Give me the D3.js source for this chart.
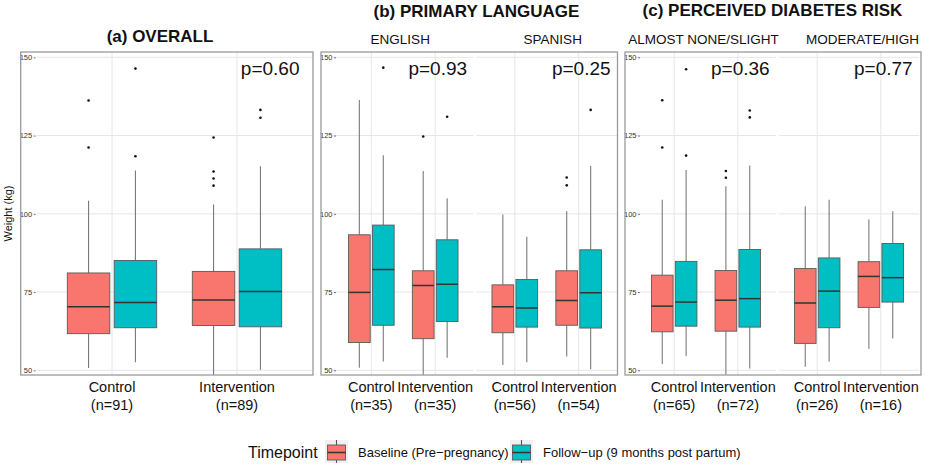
<!DOCTYPE html>
<html>
<head>
<meta charset="utf-8">
<script src="https://cdn.jsdelivr.net/npm/d3@7"></script>
<style>
  body { margin: 0; background: #fff; }
  svg { font-family: "Liberation Sans", Arial, sans-serif; }
</style>
</head>
<body>
<svg id="chart" width="930" height="465"></svg>
<script>
// Facets, arms and timepoints
const facetNames = ['OVERALL', 'ENGLISH', 'SPANISH', 'ALMOST NONE/SLIGHT', 'MODERATE/HIGH'];
const armNames = ['Control', 'Intervention'];
const timepoints = ['Baseline (Pre\u2212pregnancy)', 'Follow\u2212up (9 months post partum)'];
const armCounts = [[91, 89], [35, 35], [56, 54], [65, 72], [26, 16]];
const pValues = ['p=0.60', 'p=0.93', 'p=0.25', 'p=0.36', 'p=0.77'];
const yTicks = [50, 75, 100, 125, 150];

// Box stats per facet, per arm: [lower whisker, Q1, median, Q3, upper whisker]
const baselineBoxes = [
  [[50.7, 61.7, 70.3, 81.1, 104.2], [47.0, 64.3, 72.5, 81.6, 103.0]],
  [[50.8, 58.9, 74.9, 93.3, 136.4], [47.0, 60.1, 77.1, 81.8, 113.7]],
  [[51.7, 62.0, 70.3, 77.3, 99.8], [54.4, 64.4, 72.3, 81.8, 100.8]],
  [[52.0, 62.3, 70.5, 80.4, 104.5], [47.0, 62.5, 72.4, 81.9, 108.8]],
  [[51.1, 58.6, 71.5, 82.5, 102.4], [56.9, 70.1, 80.0, 84.7, 98.2]]
];
const followupBoxes = [
  [[52.6, 63.6, 71.7, 85.1, 113.8], [50.2, 63.9, 75.2, 88.8, 115.2]],
  [[52.8, 64.4, 82.2, 96.4, 118.7], [54.0, 65.6, 77.5, 91.7, 105.0]],
  [[52.6, 63.8, 69.9, 79.0, 92.7], [50.3, 63.5, 74.8, 88.5, 115.3]],
  [[54.6, 64.1, 71.8, 84.8, 114.0], [50.6, 63.8, 72.9, 88.6, 115.4]],
  [[52.8, 63.6, 75.3, 85.9, 104.5], [60.2, 71.8, 79.6, 90.5, 100.8]]
];
const baselineOutliers = [
  [[136.2, 121.2], [124.4, 113.5, 111.3, 109.0]],
  [[], [124.7]],
  [[], [111.6, 109.1]],
  [[136.3, 121.2], [113.7, 111.5]],
  [[], []]
];
const followupOutliers = [
  [[146.4, 118.4], [133.2, 130.7]],
  [[146.7], [131.0]],
  [[], [133.2]],
  [[146.2, 118.6], [133.0, 130.8]],
  [[], []]
];

const fillColors = ['#F8766D', '#00BFC4'];

// Layout of the three composite panels
const panels = [
  { title: '(a) OVERALL', titleX: 160, titleY: 42, frame: [20.7, 313],
    facets: [{ i: 0, x0: 37, x1: 312 }] },
  { title: '(b) PRIMARY LANGUAGE', titleX: 476.5, titleY: 17, frame: [321, 617.5],
    facets: [{ i: 1, x0: 333, x1: 473.5, stripDx: -3 }, { i: 2, x0: 476.5, x1: 617, stripDx: 6 }] },
  { title: '(c) PERCEIVED DIABETES RISK', titleX: 772.5, titleY: 16, frame: [625, 921],
    facets: [{ i: 3, x0: 636, x1: 776, stripDx: -2.5 }, { i: 4, x0: 779, x1: 919, stripDx: 13.5 }] }
];

const plotTop = 52;
const plotBottom = 375;

const svg = d3.select('#chart');

const y = d3.scaleLinear()
  .domain([48.5, 151.7])
  .range([plotBottom, plotTop]);

panels.forEach((panel, pi) => {
  const g = svg.append('g');
  const [fx0, fx1] = panel.frame;

  // Clip for whiskers that run past the panel
  svg.append('defs').append('clipPath')
    .attr('id', 'clip' + pi)
    .append('rect')
    .attr('x', fx0)
    .attr('y', plotTop)
    .attr('width', fx1 - fx0)
    .attr('height', plotBottom - plotTop);

  // Title
  g.append('text')
    .attr('x', panel.titleX)
    .attr('y', panel.titleY)
    .attr('text-anchor', 'middle')
    .attr('font-size', 17)
    .attr('font-weight', 'bold')
    .attr('fill', '#111')
    .text(panel.title);

  const plot = g.append('g').attr('clip-path', `url(#clip${pi})`);

  panel.facets.forEach(f => {
    const x = d3.scalePoint()
      .domain(armNames)
      .range([f.x0, f.x1])
      .padding(0.6);
    const step = x.step();
    const bw = step * 0.34;
    const dodge = step * 0.1875;

    // Horizontal grid
    plot.append('g')
      .selectAll('line')
      .data(yTicks)
      .join('line')
      .attr('x1', f.x0)
      .attr('x2', f.x1)
      .attr('y1', d => y(d))
      .attr('y2', d => y(d))
      .attr('stroke', '#e6e6e6')
      .attr('stroke-width', 1);

    // Vertical grid at categories
    plot.append('g')
      .selectAll('line')
      .data(armNames)
      .join('line')
      .attr('x1', d => x(d))
      .attr('x2', d => x(d))
      .attr('y1', plotTop)
      .attr('y2', plotBottom)
      .attr('stroke', '#e6e6e6')
      .attr('stroke-width', 1);

    // Flatten box records
    const boxes = [];
    armNames.forEach((arm, a) => {
      [baselineBoxes, followupBoxes].forEach((src, t) => {
        const s = src[f.i][a];
        const outl = (t === 0 ? baselineOutliers : followupOutliers)[f.i][a];
        boxes.push({
          cx: x(arm) + (t === 0 ? -dodge : dodge),
          t: t,
          lo: s[0], q1: s[1], med: s[2], q3: s[3], hi: s[4],
          outliers: outl
        });
      });
    });

    const bg = plot.append('g')
      .selectAll('g')
      .data(boxes)
      .join('g');

    // Whiskers
    bg.append('line')
      .attr('x1', d => d.cx).attr('x2', d => d.cx)
      .attr('y1', d => y(d.hi)).attr('y2', d => y(d.q3))
      .attr('stroke', '#7a7a7a').attr('stroke-width', 1.1);
    bg.append('line')
      .attr('x1', d => d.cx).attr('x2', d => d.cx)
      .attr('y1', d => y(d.q1)).attr('y2', d => y(d.lo))
      .attr('stroke', '#7a7a7a').attr('stroke-width', 1.1);

    // Boxes
    bg.append('rect')
      .attr('x', d => d.cx - bw / 2)
      .attr('width', bw)
      .attr('y', d => y(d.q3))
      .attr('height', d => y(d.q1) - y(d.q3))
      .attr('fill', d => fillColors[d.t])
      .attr('stroke', '#5a5a5a')
      .attr('stroke-width', 0.9);

    // Median
    bg.append('line')
      .attr('x1', d => d.cx - bw / 2).attr('x2', d => d.cx + bw / 2)
      .attr('y1', d => y(d.med)).attr('y2', d => y(d.med))
      .attr('stroke', '#333').attr('stroke-width', 1.5);

    // Outliers
    bg.selectAll('circle')
      .data(d => d.outliers.map(v => ({ cx: d.cx, v: v })))
      .join('circle')
      .attr('cx', d => d.cx)
      .attr('cy', d => y(d.v))
      .attr('r', 1.3)
      .attr('fill', '#111');

    // p-value annotation, placed in data units
    const xData = d3.scaleLinear().domain([0.4, 2.6]).range([f.x0, f.x1]);
    g.append('text')
      .attr('x', xData(2.5))
      .attr('y', y(144.3))
      .attr('text-anchor', 'end')
      .attr('font-size', 19)
      .attr('fill', '#111')
      .text(pValues[f.i]);

    // Strip label
    if (panel.facets.length > 1) {
      g.append('text')
        .attr('x', (f.x0 + f.x1) / 2 + (f.stripDx || 0))
        .attr('y', 43.5)
        .attr('text-anchor', 'middle')
        .attr('font-size', 13.5)
        .attr('fill', '#111')
        .text(facetNames[f.i]);
    }

    // Category labels with counts
    const lab = g.append('g')
      .selectAll('text')
      .data(armNames)
      .join('text')
      .attr('text-anchor', 'middle')
      .attr('font-size', 14.5)
      .attr('fill', '#111');
    lab.append('tspan')
      .attr('x', d => x(d))
      .attr('y', 392)
      .text(d => d);
    lab.append('tspan')
      .attr('x', d => x(d))
      .attr('y', 410)
      .text((d, k) => `(n=${armCounts[f.i][k]})`);
  });

  // Y axis inside the frame
  const axis = g.append('g')
    .attr('transform', `translate(${fx0 + 15},0)`)
    .call(d3.axisLeft(y).tickValues(yTicks).tickSize(2).tickPadding(1.5));
  axis.select('.domain').remove();
  axis.selectAll('.tick line').attr('stroke', '#555').attr('stroke-width', 0.8);
  axis.selectAll('.tick text')
    .attr('font-size', 7.5)
    .attr('fill', '#333')
    .attr('font-family', '"Liberation Sans", Arial, sans-serif');

  // Frame
  g.append('rect')
    .attr('x', fx0)
    .attr('y', plotTop)
    .attr('width', fx1 - fx0)
    .attr('height', plotBottom - plotTop)
    .attr('fill', 'none')
    .attr('stroke', '#9a9a9a')
    .attr('stroke-width', 1.3);
});

// Y axis title
svg.append('text')
  .attr('transform', 'translate(11.5,213.5) rotate(-90)')
  .attr('text-anchor', 'middle')
  .attr('font-size', 11)
  .attr('fill', '#111')
  .text('Weight (kg)');

// Legend
const legend = svg.append('g');
legend.append('text')
  .attr('x', 248)
  .attr('y', 458)
  .attr('font-size', 16)
  .attr('fill', '#111')
  .text('Timepoint');

const keyX = [325, 510];
const labelX = [358, 543];
const keys = legend.selectAll('g.key')
  .data(timepoints)
  .join('g')
  .attr('class', 'key')
  .attr('transform', (d, i) => `translate(${keyX[i]},440)`);

keys.append('rect')
  .attr('width', 23).attr('height', 23)
  .attr('fill', '#f0f0f0');
keys.append('line')
  .attr('x1', 11.5).attr('x2', 11.5)
  .attr('y1', 0).attr('y2', 23)
  .attr('stroke', '#555').attr('stroke-width', 1.1);
keys.append('rect')
  .attr('x', 2.5).attr('y', 5)
  .attr('width', 18).attr('height', 15)
  .attr('fill', (d, i) => fillColors[i])
  .attr('stroke', '#5a5a5a').attr('stroke-width', 0.9);
keys.append('line')
  .attr('x1', 2.5).attr('x2', 20.5)
  .attr('y1', 12.5).attr('y2', 12.5)
  .attr('stroke', '#333').attr('stroke-width', 1.5);

legend.selectAll('text.klab')
  .data(timepoints)
  .join('text')
  .attr('class', 'klab')
  .attr('x', (d, i) => labelX[i])
  .attr('y', 456.5)
  .attr('font-size', 13)
  .attr('fill', '#111')
  .text(d => d);
</script>
</body>
</html>
